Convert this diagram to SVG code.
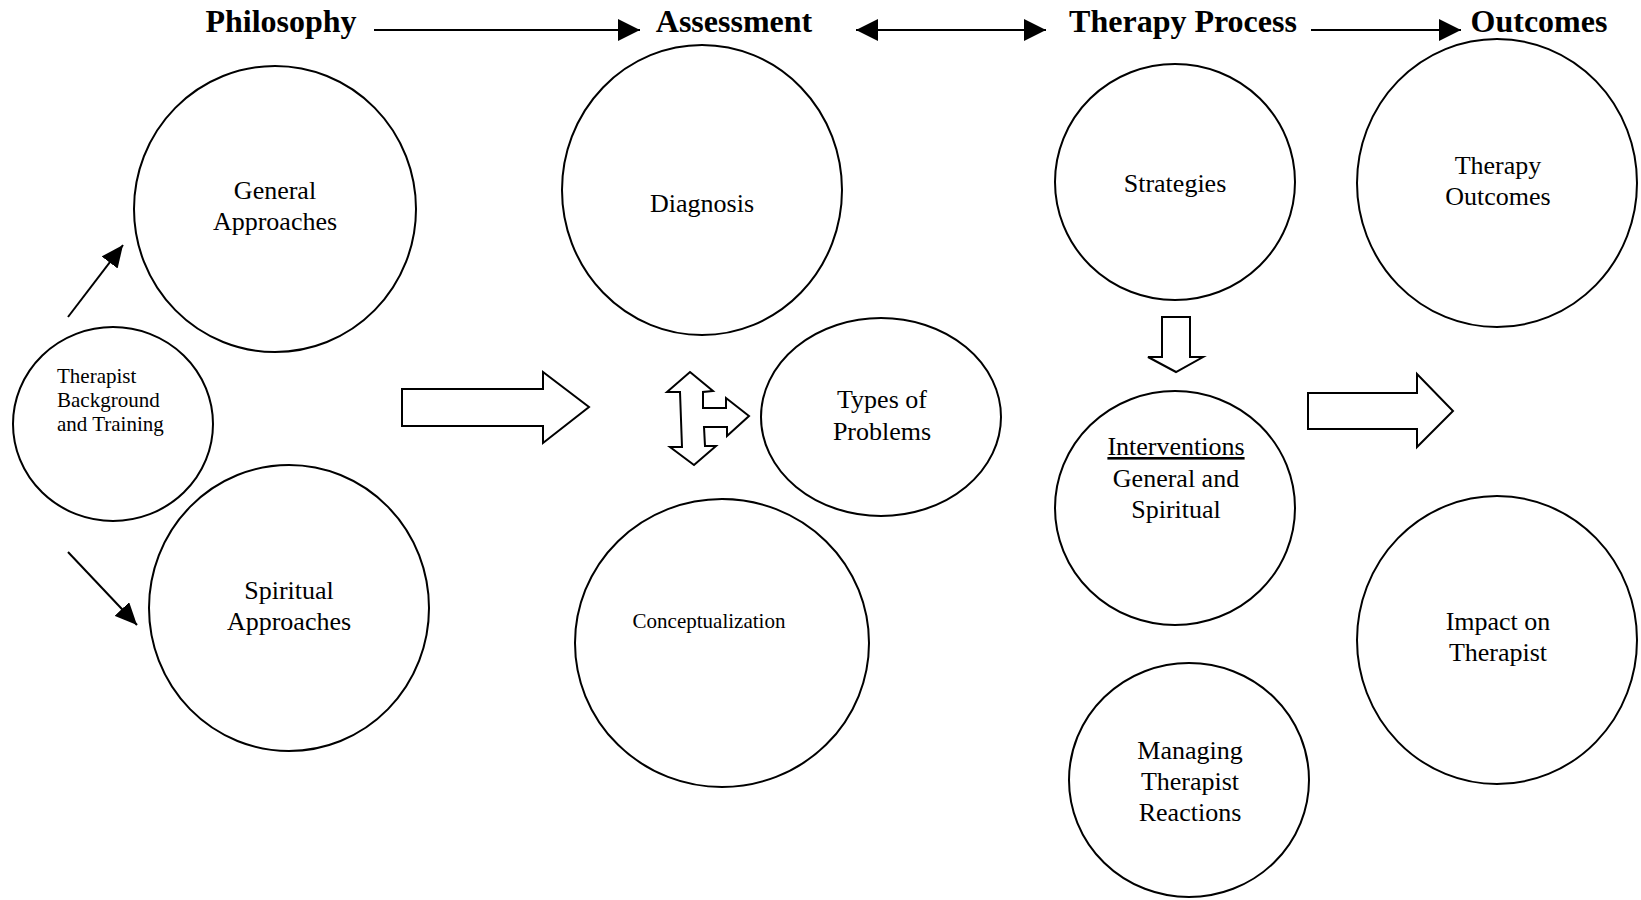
<svg xmlns="http://www.w3.org/2000/svg" width="1641" height="900" viewBox="0 0 1641 900">
<defs>
<style>
.n{fill:#fff;stroke:#000;stroke-width:2}
.t{font-family:"Liberation Serif","Times New Roman",serif;font-size:26px;fill:#000;text-anchor:middle}
.s{font-family:"Liberation Serif","Times New Roman",serif;font-size:21px;fill:#000}
.h{font-family:"Liberation Serif","Times New Roman",serif;font-size:32px;font-weight:bold;fill:#000;text-anchor:middle}
.l{stroke:#000;stroke-width:2;fill:none}
.b{fill:#fff;stroke:#000;stroke-width:2;stroke-linejoin:miter}
</style>
<marker id="hh" markerWidth="22" markerHeight="22" viewBox="0 0 22 22" refX="22" refY="11" orient="auto-start-reverse" markerUnits="userSpaceOnUse">
<path d="M0,0 L22,11 L0,22 Z" fill="#000"/>
</marker>
<marker id="sh" markerWidth="22" markerHeight="20" viewBox="0 0 22 20" refX="22" refY="10" orient="auto" markerUnits="userSpaceOnUse">
<path d="M0,0 L22,10 L0,20 Z" fill="#000"/>
</marker>
</defs>
<rect width="1641" height="900" fill="#fff"/>

<g id="headers">
<text class="h" x="281" y="32">Philosophy</text>
<text class="h" x="734" y="32">Assessment</text>
<text class="h" x="1183" y="32">Therapy Process</text>
<text class="h" x="1539" y="32">Outcomes</text>
</g>

<g id="connectors">
<line class="l" x1="374" y1="30" x2="640" y2="30" marker-end="url(#hh)"/>
<line class="l" x1="856" y1="30" x2="1046" y2="30" marker-start="url(#hh)" marker-end="url(#hh)"/>
<line class="l" x1="1311" y1="30" x2="1461" y2="30" marker-end="url(#hh)"/>
<line class="l" x1="68" y1="317" x2="123" y2="245" marker-end="url(#sh)"/>
<line class="l" x1="68" y1="552" x2="137" y2="625" marker-end="url(#sh)"/>
<path class="b" d="M402,389 L543,389 L543,372 L589,407 L543,443 L543,426 L402,426 Z"/>
<path class="b" d="M1308,393 L1417,393 L1417,374 L1453,411 L1417,447 L1417,429 L1308,429 Z"/>
<path class="b" d="M1162,317 L1190,317 L1190,357 L1203,357 L1176,372 L1148,357 L1162,357 Z"/>
<path class="b" d="M690,372 L713,391 L703,392 L703,408 L726,408 L726,398 L749,416 L727,436 L727,427 L704,427 L705,446 L716,446 L694,465 L670,447 L682,447 L680,392 L667,392 Z"/>
</g>

<g id="therapist-background">
<ellipse class="n" cx="113" cy="424" rx="100" ry="97"/>
<text class="s" x="57" y="383">Therapist</text>
<text class="s" x="57" y="407">Background</text>
<text class="s" x="57" y="431">and Training</text>
</g>

<g id="general-approaches">
<ellipse class="n" cx="275" cy="209" rx="141" ry="143"/>
<text class="t" x="275" y="199">General</text>
<text class="t" x="275" y="230">Approaches</text>
</g>

<g id="spiritual-approaches">
<ellipse class="n" cx="289" cy="608" rx="140" ry="143"/>
<text class="t" x="289" y="599">Spiritual</text>
<text class="t" x="289" y="630">Approaches</text>
</g>

<g id="diagnosis">
<ellipse class="n" cx="702" cy="190" rx="140" ry="145"/>
<text class="t" x="702" y="212">Diagnosis</text>
</g>

<g id="types-of-problems">
<ellipse class="n" cx="881" cy="417" rx="120" ry="99"/>
<text class="t" x="882" y="408">Types of</text>
<text class="t" x="882" y="440">Problems</text>
</g>

<g id="conceptualization">
<ellipse class="n" cx="722" cy="643" rx="147" ry="144"/>
<text class="s" x="709" y="628" text-anchor="middle">Conceptualization</text>
</g>

<g id="strategies">
<ellipse class="n" cx="1175" cy="182" rx="120" ry="118"/>
<text class="t" x="1175" y="192">Strategies</text>
</g>

<g id="interventions">
<ellipse class="n" cx="1175" cy="508" rx="120" ry="117"/>
<text class="t" x="1176" y="455" text-decoration="underline">Interventions</text>
<text class="t" x="1176" y="487">General and</text>
<text class="t" x="1176" y="518">Spiritual</text>
</g>

<g id="managing-reactions">
<ellipse class="n" cx="1189" cy="780" rx="120" ry="117"/>
<text class="t" x="1190" y="759">Managing</text>
<text class="t" x="1190" y="790">Therapist</text>
<text class="t" x="1190" y="821">Reactions</text>
</g>

<g id="therapy-outcomes">
<ellipse class="n" cx="1497" cy="183" rx="140" ry="144"/>
<text class="t" x="1498" y="174">Therapy</text>
<text class="t" x="1498" y="205">Outcomes</text>
</g>

<g id="impact-on-therapist">
<ellipse class="n" cx="1497" cy="640" rx="140" ry="144"/>
<text class="t" x="1498" y="630">Impact on</text>
<text class="t" x="1498" y="661">Therapist</text>
</g>
</svg>
